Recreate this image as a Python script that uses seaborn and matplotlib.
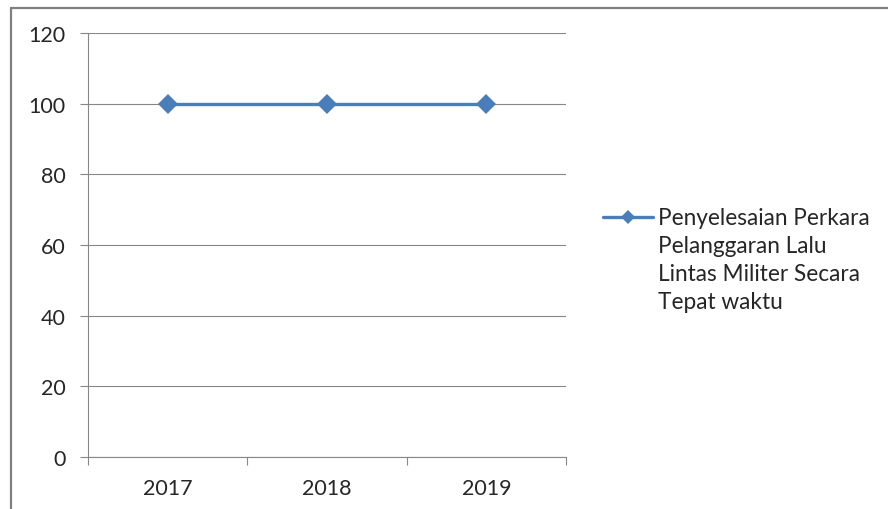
import matplotlib
matplotlib.use("Agg")
import matplotlib.pyplot as plt
from matplotlib.lines import Line2D
from matplotlib.ticker import FixedLocator
import seaborn as sns
import pandas as pd

# Data
years = ["2017", "2018", "2019"]
values = [100, 100, 100]
series_name = "Penyelesaian Perkara\nPelanggaran Lalu\nLintas Militer Secara\nTepat waktu"
y_ticks = [0, 20, 40, 60, 80, 100, 120]

sns.set_theme(style="white")
plt.rcParams["font.family"] = ["Lato", "DejaVu Sans"]

W, H = 888, 510
fig = plt.figure(figsize=(W / 100, H / 100), dpi=100)
ax = fig.add_axes([88 / W, 1 - 458 / H, (566 - 88) / W, (458 - 34) / H])

blue = "#4A7EBB"
grid_c = "#878787"
text_c = "#262626"

df = pd.DataFrame({"year": years, "value": values})
sns.lineplot(data=df, x="year", y="value", ax=ax, color=blue, linewidth=2.4,
             marker="D", markersize=9.8, markeredgewidth=0, label=series_name,
             legend=False)

ax.set_xlim(-0.5, len(years) - 0.5)
ax.set_ylim(0, 120)
ax.set_yticks(y_ticks)
ax.set_xlabel("")
ax.set_ylabel("")

# horizontal gridlines
ax.yaxis.grid(True, color=grid_c, linewidth=0.8)
ax.xaxis.grid(False)
ax.set_axisbelow(True)

for s in ["top", "right"]:
    ax.spines[s].set_visible(False)
for s in ["left", "bottom"]:
    ax.spines[s].set_color(grid_c)
    ax.spines[s].set_linewidth(0.8)

# category axis: labels centred, tick marks at the category boundaries
ax.xaxis.set_minor_locator(FixedLocator([i - 0.5 for i in range(len(years) + 1)]))
ax.tick_params(axis="x", which="major", length=0, pad=15, labelsize=15.5, colors=text_c)
ax.tick_params(axis="x", which="minor", length=6, width=0.8, color=grid_c, direction="out", bottom=True)
ax.tick_params(axis="y", length=6, width=0.8, color=grid_c, direction="out", pad=10,
               labelsize=15.5, labelcolor=text_c, left=True)

# legend
leg = fig.legend(handles=ax.get_lines()[:1], labels=[series_name],
                 loc="upper left", bbox_to_anchor=(603 / W, 1 - 208 / H),
                 frameon=False, fontsize=16.3, handlelength=2.2, handletextpad=0.25,
                 handleheight=1.2, borderpad=0, borderaxespad=0,
                 labelcolor=text_c)
for t in leg.get_texts():
    t.set_linespacing(1.42)
for h in leg.legend_handles:
    h.set_markersize(7.5)
# align the legend marker with the first line of its label
for column in leg._legend_handle_box.get_children():
    for item in column.get_children():
        item.align = "top"

# outer chart border (top and left edges)
fig.add_artist(Line2D([11 / W, 1], [1 - 9 / H, 1 - 9 / H], transform=fig.transFigure,
                      color="#808080", linewidth=1.6))
fig.add_artist(Line2D([11 / W, 11 / W], [0, 1 - 9 / H], transform=fig.transFigure,
                      color="#808080", linewidth=1.6))

fig.savefig("out.png", dpi=100)
